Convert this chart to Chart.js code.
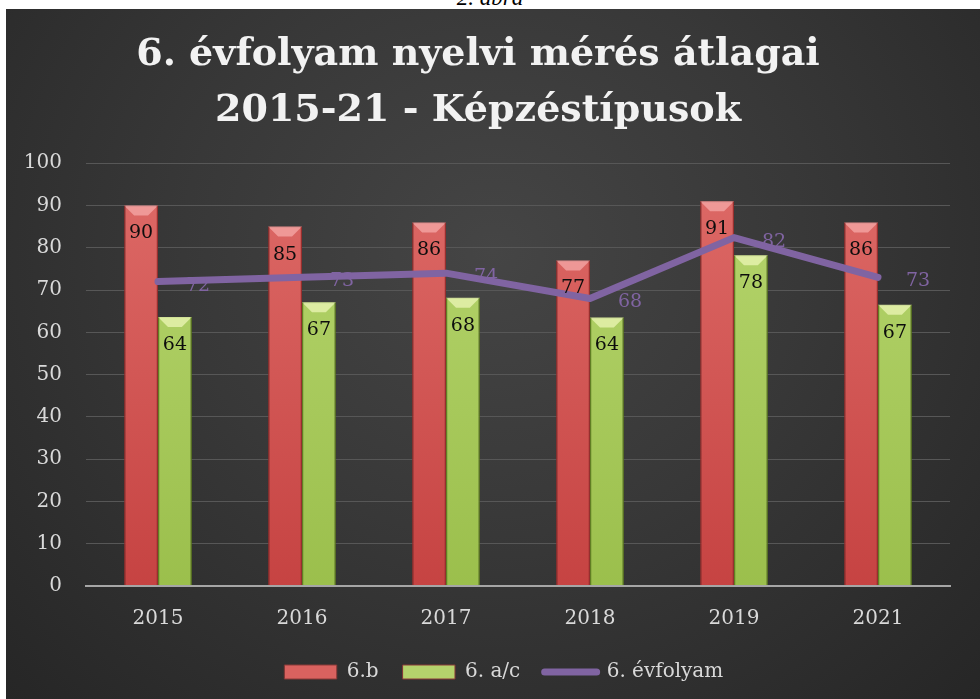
<!DOCTYPE html>
<html>
<head>
  <title>6. évfolyam nyelvi mérés átlagai</title>
  <script src="https://cdn.jsdelivr.net/npm/chart.js"></script>
  <style>
    body {
      margin: 0;
      background-color: #ffffff;
      width: 980px;
      height: 699px;
      overflow: hidden;
      position: relative;
    }

    #felirat {
      position: absolute;
      top: -15px;
      left: 0;
      width: 980px;
      text-align: center;
      font-family: "Liberation Serif", serif;
      font-size: 23px;
      font-style: italic;
      color: #000000;
    }

    .container {
      position: absolute;
      left: 6px;
      top: 9px;
      width: 974px;
      height: 690px;
      background: radial-gradient(ellipse at 50% 35%, #454545 0%, #383838 45%, #262626 100%);
    }
  </style>
</head>
<body>
  <div id="felirat">2. ábra</div>

  <div class="container">
    <canvas id="grafico" width="974" height="690"></canvas>
  </div>

  <script>
    var evek = ["2015", "2016", "2017", "2018", "2019", "2021"];
    var adat6b = [90, 85, 86, 77, 91, 86];
    var adat6ac = [63.6, 67.1, 68.2, 63.5, 78.2, 66.5];
    var adatEvfolyam = [72, 73, 74, 68, 82.4, 73];
    var yTicks = [0, 10, 20, 30, 40, 50, 60, 70, 80, 90, 100];

    var betu = "'DejaVu Serif', serif";

    function oszlopSzin(felso, also, alap) {
      return function (context) {
        var area = context.chart.chartArea;
        if (!area) {
          return alap;
        }
        var g = context.chart.ctx.createLinearGradient(0, area.top, 0, area.bottom);
        g.addColorStop(0, felso);
        g.addColorStop(1, also);
        return g;
      };
    }

    // lighter top bevel on each bar
    var fazetta = {
      id: "fazetta",
      afterDatasetDraw: function (chart, args) {
        if (args.meta.type !== "bar") {
          return;
        }
        var ctx = chart.ctx;
        var vilagos = args.index === 0 ? "rgba(246,170,168,0.75)" : "rgba(232,244,178,0.8)";
        var sotet = args.index === 0 ? "rgba(120,30,30,0.35)" : "rgba(70,95,20,0.35)";
        ctx.save();
        args.meta.data.forEach(function (bar) {
          var l = bar.x - bar.width / 2;
          var r = bar.x + bar.width / 2;
          var t = bar.y;
          var b = 10;
          ctx.fillStyle = vilagos;
          ctx.beginPath();
          ctx.moveTo(l, t);
          ctx.lineTo(r, t);
          ctx.lineTo(r - b, t + b);
          ctx.lineTo(l + b, t + b);
          ctx.closePath();
          ctx.fill();
          ctx.fillStyle = sotet;
          ctx.fillRect(l, t, 1.5, bar.base - t);
          ctx.fillRect(r - 1.5, t, 1.5, bar.base - t);
        });
        ctx.restore();
      }
    };

    var cimkek = {
      id: "cimkek",
      afterDatasetsDraw: function (chart) {
        var ctx = chart.ctx;
        ctx.save();
        ctx.font = "19px " + betu;
        chart.data.datasets.forEach(function (ds, i) {
          var meta = chart.getDatasetMeta(i);
          meta.data.forEach(function (el, j) {
            var szoveg = Math.round(ds.data[j]).toString();
            if (meta.type === "bar") {
              ctx.fillStyle = "#0d0d0d";
              ctx.textAlign = "center";
              ctx.textBaseline = "middle";
              ctx.fillText(szoveg, el.x, el.y + 28);
            } else {
              ctx.fillStyle = "#8064a2";
              ctx.textAlign = "left";
              ctx.textBaseline = "middle";
              ctx.fillText(szoveg, el.x + 28, el.y + 4);
            }
          });
        });
        ctx.restore();
      }
    };

    // legend sits a bit right of the canvas centre in the original
    var legendEltolas = {
      id: "legendEltolas",
      afterLayout: function (chart) {
        if (chart.legend) {
          chart.legend.left += 26;
          chart.legend.right += 26;
        }
      }
    };

    var legendSzinek = ["#d9625f", "#b5d26c", "#8064a2"];

    var ctx = document.getElementById("grafico").getContext("2d");
    var chart = new Chart(ctx, {
      type: "bar",
      data: {
        labels: evek,
        datasets: [
          {
            label: "6.b",
            data: adat6b,
            backgroundColor: oszlopSzin("#de6b68", "#c64342", "#d35856"),
            borderColor: "#a53a38",
            borderWidth: 1,
            order: 1
          },
          {
            label: "6. a/c",
            data: adat6ac,
            backgroundColor: oszlopSzin("#b7d66f", "#9bbf4c", "#a6c760"),
            borderColor: "#6f8f2c",
            borderWidth: 1,
            order: 1
          },
          {
            type: "line",
            label: "6. évfolyam",
            data: adatEvfolyam,
            borderColor: "#8064a2",
            backgroundColor: "#8064a2",
            borderWidth: 7,
            borderCapStyle: "round",
            borderJoinStyle: "round",
            pointRadius: 0,
            tension: 0,
            order: 0
          }
        ]
      },
      options: {
        responsive: false,
        animation: false,
        datasets: {
          bar: {
            categoryPercentage: 0.47,
            barPercentage: 1
          }
        },
        layout: {
          padding: { left: 0, right: 30, top: 0, bottom: 7 }
        },
        scales: {
          x: {
            grid: { display: false },
            border: { color: "#a6a6a6", width: 2 },
            ticks: {
              color: "#d9d9d9",
              font: { family: betu, size: 20 },
              padding: 13
            }
          },
          y: {
            min: 0,
            max: 100,
            afterBuildTicks: function (axis) {
              axis.ticks = yTicks.map(function (v) { return { value: v }; });
            },
            afterFit: function (axis) {
              axis.width = 80;
            },
            border: { display: false },
            grid: {
              color: function (c) {
                return c.tick && c.tick.value === 0 ? "#a6a6a6" : "#575757";
              },
              lineWidth: function (c) {
                return c.tick && c.tick.value === 0 ? 2 : 1;
              },
              drawTicks: false
            },
            ticks: {
              color: "#d9d9d9",
              font: { family: betu, size: 20 },
              padding: 24
            }
          }
        },
        plugins: {
          title: {
            display: true,
            text: ["6. évfolyam nyelvi mérés átlagai", "2015-21 - Képzéstípusok"],
            color: "#f2f2f2",
            font: { family: betu, size: 38, weight: "bold", lineHeight: 1.45 },
            padding: { top: 19, bottom: 25 }
          },
          legend: {
            position: "bottom",
            labels: {
              color: "#d9d9d9",
              font: { family: betu, size: 20 },
              usePointStyle: true,
              pointStyleWidth: 52,
              boxHeight: 14,
              padding: 18,
              sort: function (a, b) { return a.datasetIndex - b.datasetIndex; },
              generateLabels: function (chart) {
                var alap = Chart.defaults.plugins.legend.labels.generateLabels(chart);
                alap.forEach(function (item) {
                  var i = item.datasetIndex;
                  item.fillStyle = legendSzinek[i];
                  item.strokeStyle = i === 2 ? legendSzinek[i] : "#8a3a38";
                  item.pointStyle = i === 2 ? "line" : "rect";
                  item.lineWidth = i === 2 ? 7 : 1;
                  item.lineCap = "round";
                  if (i < 2) {
                    item.text = item.text + " ";
                  }
                });
                return alap;
              }
            }
          },
          tooltip: { enabled: false }
        }
      },
      plugins: [fazetta, cimkek, legendEltolas]
    });
  </script>
</body>
</html>
